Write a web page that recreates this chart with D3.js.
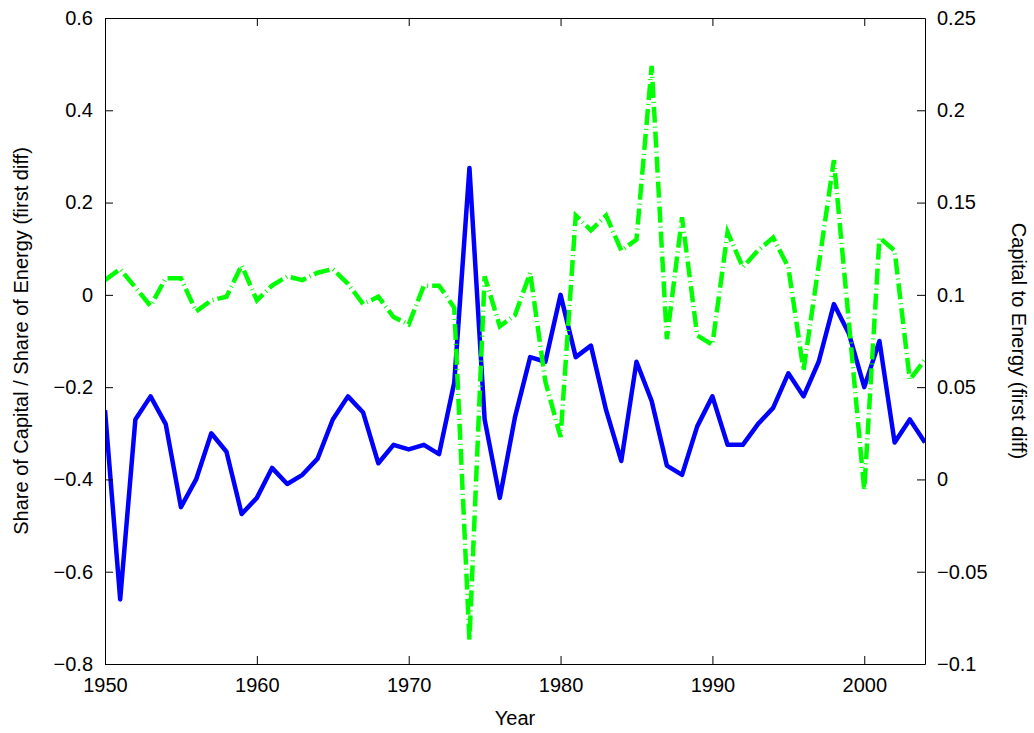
<!DOCTYPE html>
<html>
<head>
<meta charset="utf-8">
<script src="https://cdn.jsdelivr.net/npm/d3@7"></script>
<style>
  body { margin: 0; background: #fff; }
  text { font-family: "Liberation Sans", Arial, sans-serif; }
</style>
</head>
<body>
<div id="chart"></div>
<script>
// data
const years = d3.range(1950, 2005);
const shareRatio = [-0.25, -0.66, -0.27, -0.22, -0.28, -0.46, -0.40, -0.30, -0.34, -0.475,
  -0.44, -0.375, -0.41, -0.39, -0.355, -0.27, -0.22, -0.255, -0.365, -0.325,
  -0.335, -0.325, -0.345, -0.19, 0.275, -0.27, -0.44, -0.265, -0.135, -0.145,
  0.0, -0.135, -0.11, -0.25, -0.36, -0.145, -0.23, -0.37, -0.39, -0.285,
  -0.22, -0.325, -0.325, -0.28, -0.245, -0.17, -0.22, -0.145, -0.02, -0.085,
  -0.2, -0.1, -0.32, -0.27, -0.32];
const capEnergy = [0.108, 0.114, 0.104, 0.094, 0.109, 0.109, 0.091, 0.097, 0.099, 0.116,
  0.097, 0.105, 0.110, 0.108, 0.112, 0.114, 0.106, 0.095, 0.099, 0.088,
  0.084, 0.105, 0.105, 0.093, -0.087, 0.110, 0.083, 0.089, 0.112, 0.053,
  0.023, 0.143, 0.135, 0.143, 0.124, 0.130, 0.224, 0.076, 0.142, 0.078,
  0.073, 0.134, 0.115, 0.124, 0.131, 0.115, 0.059, 0.116, 0.173, 0.084,
  -0.006, 0.131, 0.124, 0.054, 0.065];
const xTicks = [1950, 1960, 1970, 1980, 1990, 2000];
const yLeftTicks = [-0.8, -0.6, -0.4, -0.2, 0, 0.2, 0.4, 0.6];
const yRightTicks = [-0.1, -0.05, 0, 0.05, 0.1, 0.15, 0.2, 0.25];

// constants
const w = 1034, h = 733,
      pl = 105, pr = 925, pt = 18, pb = 664,
      fs = 20;

const svg = d3.select("#chart").append("svg")
  .attr("width", w).attr("height", h);

const x = d3.scaleLinear().domain([1950, 2004]).range([pl, pr]);
const yL = d3.scaleLinear().domain([-0.8, 0.6]).range([pb, pt]);
const yR = d3.scaleLinear().domain([-0.1, 0.25]).range([pb, pt]);

const fmt = d => d < 0 ? "\u2212" + Math.abs(d) : String(d);

// lines
svg.append("clipPath").attr("id", "clip")
  .append("rect").attr("x", pl).attr("y", pt)
  .attr("width", pr - pl).attr("height", pb - pt);

const g = svg.append("g").attr("clip-path", "url(#clip)");
g.append("path")
  .attr("d", d3.line().x((d, i) => x(years[i])).y(d => yL(d))(shareRatio))
  .attr("fill", "none").attr("stroke", "#0000ff").attr("stroke-width", 4.5)
  .attr("stroke-linejoin", "round");
g.append("path")
  .attr("d", d3.line().x((d, i) => x(years[i])).y(d => yR(d))(capEnergy))
  .attr("fill", "none").attr("stroke", "#00ff00").attr("stroke-width", 4.5)
  .attr("stroke-dasharray", "16,4,1,4");

// axes
const axB = svg.append("g").attr("transform", `translate(0,${pb})`)
  .call(d3.axisBottom(x).tickValues(xTicks).tickFormat(d3.format("d")).tickSizeInner(-8).tickSizeOuter(0).tickPadding(14));
const axT = svg.append("g").attr("transform", `translate(0,${pt})`)
  .call(d3.axisTop(x).tickValues(xTicks).tickFormat("").tickSizeInner(-8).tickSizeOuter(0));
const axL = svg.append("g").attr("transform", `translate(${pl},0)`)
  .call(d3.axisLeft(yL).tickValues(yLeftTicks).tickFormat(fmt).tickSizeInner(-8).tickSizeOuter(0).tickPadding(12));
const axR = svg.append("g").attr("transform", `translate(${pr},0)`)
  .call(d3.axisRight(yR).tickValues(yRightTicks).tickFormat(fmt).tickSizeInner(-8).tickSizeOuter(0).tickPadding(12));

[axB, axT, axL, axR].forEach(a => {
  a.selectAll("path, line").attr("stroke", "#000");
  a.selectAll("text").attr("font-size", fs).attr("fill", "#000")
    .style("font-family", "'Liberation Sans', Arial, sans-serif");
});

// labels
svg.append("text").attr("x", (pl + pr) / 2).attr("y", 725)
  .attr("text-anchor", "middle").attr("font-size", fs).text("Year");
svg.append("text").attr("transform", `translate(28,${(pt + pb) / 2}) rotate(-90)`)
  .attr("text-anchor", "middle").attr("font-size", fs)
  .text("Share of Capital / Share of Energy (first diff)");
svg.append("text").attr("transform", `translate(1012,${(pt + pb) / 2}) rotate(90)`)
  .attr("text-anchor", "middle").attr("font-size", fs)
  .text("Capital to Energy (first diff)");
</script>
</body>
</html>
